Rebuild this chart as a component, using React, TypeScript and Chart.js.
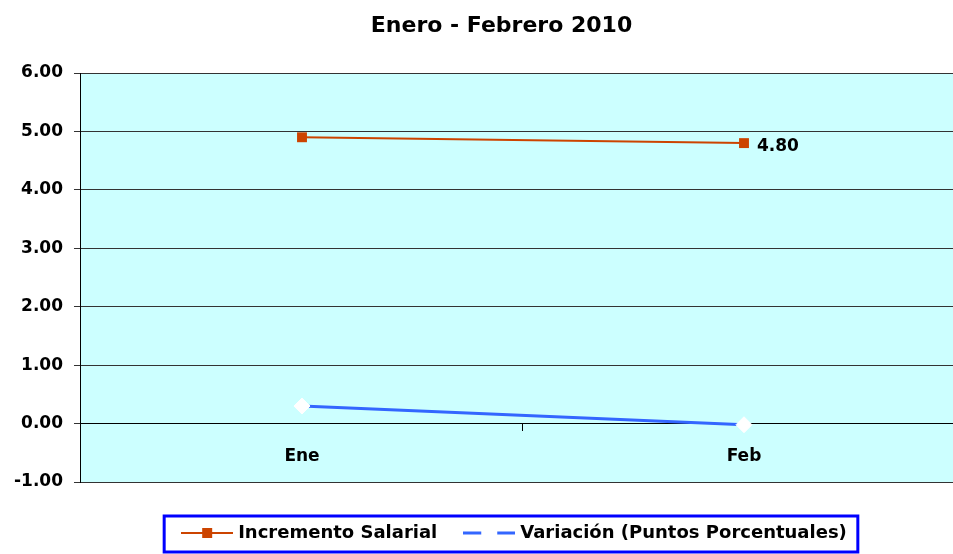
import React, { useEffect, useRef } from 'react';
import { Chart, registerables } from 'chart.js';

Chart.register(...registerables);

// ---- data ----
const categories = ['Ene', 'Feb'];
const incrementoSalarial = [4.9, 4.8];
const variacion = [0.3, -0.02];
const yTickValues = [-1, 0, 1, 2, 3, 4, 5, 6];
const seriesNames = ['Incremento Salarial', 'Variación (Puntos Porcentuales)'];
const chartTitle = 'Enero - Febrero 2010';
const labelledSeries = 0;
const labelledIndex = 1;

const FONT = "'DejaVu Sans', 'Liberation Sans', sans-serif";
const ORANGE = '#CC4400';
const BLUE = '#3366FF';

function makeLegendSymbols() {
  const a = document.createElement('canvas');
  a.width = 52;
  a.height = 12;
  const ca = a.getContext('2d')!;
  ca.strokeStyle = ORANGE;
  ca.lineWidth = 2;
  ca.beginPath();
  ca.moveTo(0, 6);
  ca.lineTo(52, 6);
  ca.stroke();
  ca.fillStyle = ORANGE;
  ca.fillRect(21, 1, 10, 10);

  const b = document.createElement('canvas');
  b.width = 52;
  b.height = 6;
  const cb = b.getContext('2d')!;
  cb.strokeStyle = BLUE;
  cb.lineWidth = 3;
  cb.beginPath();
  cb.moveTo(0, 3);
  cb.lineTo(18, 3);
  cb.moveTo(34, 3);
  cb.lineTo(52, 3);
  cb.stroke();
  return [a, b];
}

const plotBackground = {
  id: 'plotBackground',
  beforeDraw(chart: any) {
    const { ctx, chartArea: a } = chart;
    ctx.save();
    ctx.fillStyle = '#CCFFFF';
    ctx.fillRect(a.left, a.top, a.right - a.left, a.bottom - a.top);
    ctx.restore();
  },
};

// centre the title and legend the way the original spreadsheet did
const blockShift = {
  id: 'blockShift',
  afterLayout(chart: any) {
    if (chart.titleBlock) {
      chart.titleBlock.left += 35;
    }
    if (chart.legend) {
      chart.legend.left += 32;
      chart.legend.right += 32;
    }
  },
};

const pointLabel = {
  id: 'pointLabel',
  afterDatasetsDraw(chart: any) {
    const meta = chart.getDatasetMeta(labelledSeries);
    const pt = meta.data[labelledIndex];
    if (!pt) return;
    const { ctx } = chart;
    ctx.save();
    ctx.font = `bold 17px ${FONT}`;
    ctx.fillStyle = '#000';
    ctx.textAlign = 'left';
    ctx.textBaseline = 'middle';
    const v = chart.data.datasets[labelledSeries].data[labelledIndex];
    ctx.fillText(Number(v).toFixed(2), pt.x + 13, pt.y + 3);
    ctx.restore();
  },
};

const legendBorder = {
  id: 'legendBorder',
  afterDraw(chart: any) {
    const lg = chart.legend;
    if (!lg || !lg.legendHitBoxes || !lg.legendHitBoxes.length) return;
    const hb = lg.legendHitBoxes;
    const first = hb[0];
    const last = hb[hb.length - 1];
    const left = first.left - 21;
    const right = last.left + last.width + 11;
    const top = first.top - 8;
    const bottom = top + 36;
    const { ctx } = chart;
    ctx.save();
    ctx.strokeStyle = '#0000FF';
    ctx.lineWidth = 3;
    ctx.strokeRect(left, top, right - left, bottom - top);
    ctx.restore();
  },
};

export default function App() {
  const ref = useRef<HTMLCanvasElement | null>(null);

  useEffect(() => {
    if (!ref.current) return;
    const symbols = makeLegendSymbols();
    const chart = new Chart(ref.current, {
      type: 'line',
      data: {
        labels: categories,
        datasets: [
          {
            label: seriesNames[0],
            data: incrementoSalarial,
            borderColor: ORANGE,
            backgroundColor: ORANGE,
            borderWidth: 2,
            pointStyle: 'rect',
            pointRadius: 7,
            pointBackgroundColor: ORANGE,
            pointBorderColor: ORANGE,
            pointBorderWidth: 0,
            tension: 0,
          },
          {
            label: seriesNames[1],
            data: variacion,
            borderColor: BLUE,
            backgroundColor: BLUE,
            borderWidth: 3,
            pointStyle: 'rectRot',
            pointRadius: 8,
            pointBackgroundColor: '#FFFFFF',
            pointBorderColor: '#FFFFFF',
            pointBorderWidth: 1,
            tension: 0,
          },
        ],
      },
      options: {
        responsive: false,
        animation: false,
        events: [],
        layout: { padding: { left: 3, right: 41, top: 0, bottom: 2 } },
        scales: {
          x: {
            type: 'category',
            position: { y: 0 } as any,
            offset: true,
            grid: {
              offset: true,
              drawOnChartArea: false,
              drawTicks: true,
              tickLength: 7,
              color: '#000',
            },
            border: { display: true, color: '#000', width: 1 },
            ticks: {
              color: '#000',
              padding: 16,
              font: { family: FONT, size: 17, weight: 'bold' },
            },
            afterFit: (s: any) => {
              s.height = 0;
            },
          },
          y: {
            type: 'linear',
            min: yTickValues[0],
            max: yTickValues[yTickValues.length - 1],
            afterBuildTicks: (s: any) => {
              s.ticks = yTickValues.map((v) => ({ value: v }));
            },
            grid: {
              color: '#333',
              lineWidth: 1,
              drawTicks: true,
              tickLength: 7,
            },
            border: { display: true, color: '#000', width: 1 },
            ticks: {
              color: '#000',
              padding: 11,
              font: { family: FONT, size: 17, weight: 'bold' },
              callback: (v: any) => Number(v).toFixed(2),
            },
          },
        },
        plugins: {
          title: {
            display: true,
            text: chartTitle,
            color: '#000',
            font: { family: FONT, size: 22, weight: 'bold' },
            padding: { top: 13, bottom: 33.6 },
          },
          legend: {
            display: true,
            position: 'bottom',
            title: { display: true, text: '', font: { size: 10 }, padding: 0 },
            labels: {
              usePointStyle: true,
              pointStyleWidth: 44,
              padding: 30,
              color: '#000',
              font: { family: FONT, size: 18, weight: 'bold' },
              generateLabels: (c: any) =>
                c.data.datasets.map((ds: any, i: number) => ({
                  text: ds.label,
                  pointStyle: symbols[i],
                  fillStyle: 'transparent',
                  strokeStyle: 'transparent',
                  lineWidth: 0,
                  hidden: false,
                  datasetIndex: i,
                  fontColor: '#000',
                })),
            },
          },
          tooltip: { enabled: false },
        },
      },
      plugins: [plotBackground, blockShift, pointLabel, legendBorder],
    });
    return () => chart.destroy();
  }, []);

  return (
    <div
      style={{
        position: 'fixed',
        left: 0,
        top: 0,
        width: 953,
        height: 554,
        overflow: 'hidden',
        background: '#fff',
      }}
    >
      <canvas ref={ref} width={1006} height={554} style={{ display: 'block' }} />
    </div>
  );
}
